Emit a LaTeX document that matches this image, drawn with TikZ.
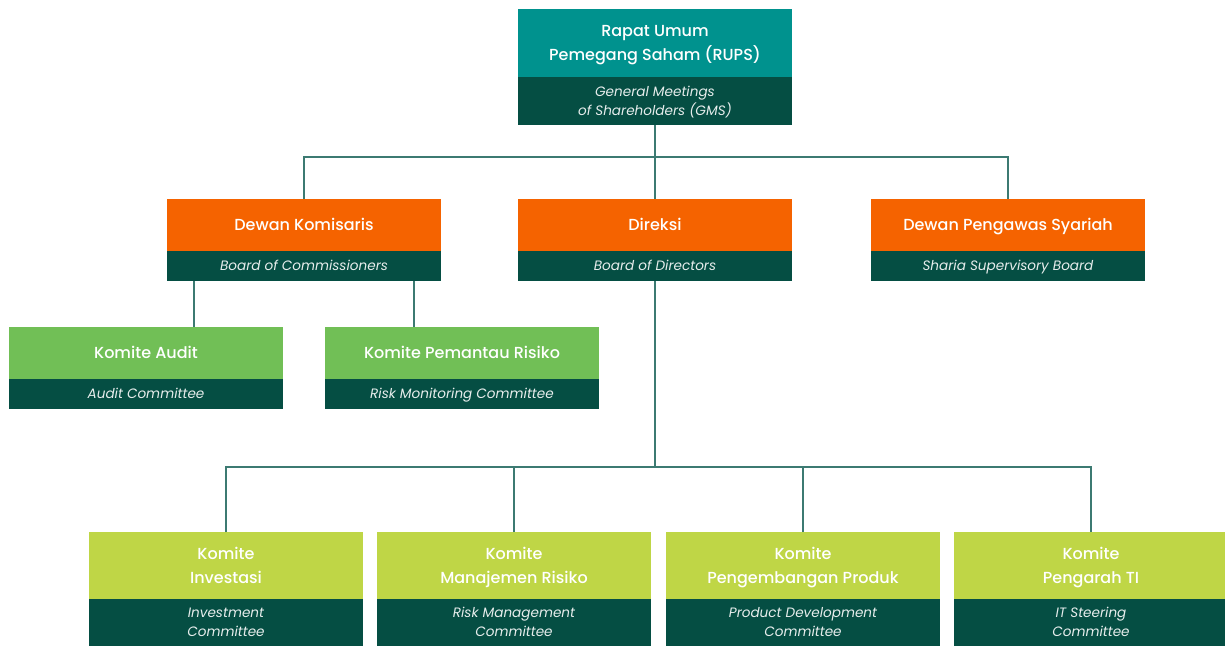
\documentclass[tikz,border=0pt]{standalone}
\usepackage{fontspec}
\setmainfont{Poppins}[BoldFont={Poppins Medium}]

\definecolor{rupsteal}{RGB}{0,146,142}
\definecolor{darkgrn}{RGB}{5,78,67}
\definecolor{boardorg}{RGB}{245,99,0}
\definecolor{auditgrn}{RGB}{113,191,86}
\definecolor{limegrn}{RGB}{191,214,70}
\definecolor{linecol}{RGB}{60,122,114}

\tikzset{
  topbox/.style={fill=#1, text=white, anchor=north west, align=center,
    minimum width=205.5pt, inner sep=0pt, outer sep=0pt,
    text height=8.4pt, text depth=0pt,
    font=\bfseries\fontsize{12}{18}\selectfont},
  subbox/.style={fill=darkgrn, text=white!90!darkgrn, anchor=north west, align=center,
    minimum width=205.5pt, inner sep=0pt, outer sep=0pt,
    text height=7.1pt, text depth=0pt,
    font=\itshape\fontsize{10.2}{14.25}\selectfont},
  % two lines of text: keep the block centred on its capitals
  twotop/.style={text height=26.4pt},
  twosub/.style={text height=21.35pt},
  link/.style={draw=linecol, line width=1.1pt}
}

\begin{document}
\begin{tikzpicture}[x=0.75pt,y=0.75pt,yscale=-1,xscale=1]
\useasboundingbox (0,0) rectangle (1225,646);

% RUPS
\node [topbox=rupsteal, twotop, minimum height=51pt] (rupsT) at (518,9) {Rapat Umum\\Pemegang Saham (RUPS)};
\node [subbox, twosub, minimum height=36pt] (rupsS) at (518,77) {General Meetings\\of Shareholders (GMS)};

% Boards
\node [topbox=boardorg, minimum height=39pt] (dkT) at (167,199) {Dewan Komisaris};
\node [subbox, minimum height=22.5pt] (dkS) at (167,251) {Board of Commissioners};
\node [topbox=boardorg, minimum height=39pt] (dirT) at (518,199) {Direksi};
\node [subbox, minimum height=22.5pt] (dirS) at (518,251) {Board of Directors};
\node [topbox=boardorg, minimum height=39pt] (dpsT) at (871,199) {Dewan Pengawas Syariah};
\node [subbox, minimum height=22.5pt] (dpsS) at (871,251) {Sharia Supervisory Board};

% Committees under the commissioners
\node [topbox=auditgrn, minimum height=39pt] (audT) at (9,327) {Komite Audit};
\node [subbox, minimum height=22.5pt] (audS) at (9,379) {Audit Committee};
\node [topbox=auditgrn, minimum height=39pt] (kprT) at (325,327) {Komite Pemantau Risiko};
\node [subbox, minimum height=22.5pt] (kprS) at (325,379) {Risk Monitoring Committee};

% Committees under the directors
\node [topbox=limegrn, twotop, minimum height=50.25pt] (invT) at (89,532) {Komite\\Investasi};
\node [subbox, twosub, minimum height=35.25pt] (invS) at (89,599) {Investment\\Committee};
\node [topbox=limegrn, twotop, minimum height=50.25pt] (kmrT) at (377,532) {Komite\\Manajemen Risiko};
\node [subbox, twosub, minimum height=35.25pt] (kmrS) at (377,599) {Risk Management\\Committee};
\node [topbox=limegrn, twotop, minimum height=50.25pt] (kppT) at (666,532) {Komite\\Pengembangan Produk};
\node [subbox, twosub, minimum height=35.25pt] (kppS) at (666,599) {Product Development\\Committee};
\node [topbox=limegrn, twotop, minimum height=50.25pt] (kptT) at (954,532) {Komite\\Pengarah TI};
\node [subbox, twosub, minimum height=35.25pt] (kptS) at (954,599) {IT Steering\\Committee};

% RUPS -> boards
\draw [link] (rupsS.south) -- ++(0,32) coordinate (hubA);
\draw [link] (dkT.north) |- (hubA) -| (dpsT.north);
\draw [link] (hubA) -- (dirT.north);

% commissioners -> committees
\path (dkS.south west) ++(27,0) coordinate (dkL);
\path (dkS.south west) ++(247,0) coordinate (dkR);
\draw [link] (dkL) -- (dkL |- audT.north);
\draw [link] (dkR) -- (dkR |- kprT.north);

% directors -> committees
\draw [link] (dirS.south) -- ++(0,186) coordinate (hubB);
\draw [link] (invT.north) |- (hubB) -| (kptT.north);
\draw [link] (kmrT.north) -- (kmrT.north |- hubB);
\draw [link] (kppT.north) -- (kppT.north |- hubB);

\end{tikzpicture}
\end{document}
